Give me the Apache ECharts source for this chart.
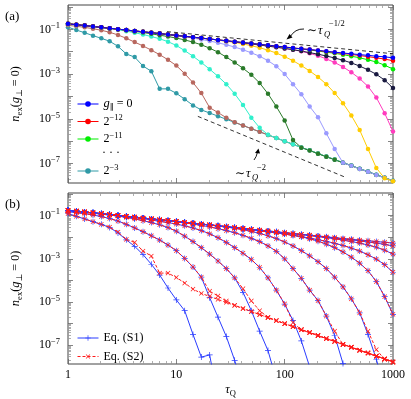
<!DOCTYPE html>
<html>
<head>
<meta charset="utf-8">
<script src="https://cdn.jsdelivr.net/npm/echarts@6/dist/echarts.min.js"></script>
<style>
  html, body { margin: 0; padding: 0; background: #fff; }
  #main { width: 411px; height: 399px; }
</style>
</head>
<body>
<div id="main"></div>
<script>
// tau_Q sample points, 13 per decade
const tauQ = [1, 1.194, 1.425, 1.701, 2.031, 2.424, 2.894, 3.455, 4.125, 4.924, 5.878, 7.017, 8.377,
  10, 11.94, 14.25, 17.01, 20.31, 24.24, 28.94, 34.55, 41.25, 49.24, 58.78, 70.17, 83.77,
  100, 119.4, 142.5, 170.1, 203.1, 242.4, 289.4, 345.5, 412.5, 492.4, 587.8, 701.7, 837.7, 1000];

// panel (a) / Eq. (S2): log10 n_ex, one value per tauQ
const nG0 = [-0.75,-0.79,-0.83,-0.87,-0.91,-0.95,-0.99,-1.03,-1.07,-1.11,-1.15,-1.19,-1.23,-1.27,-1.31,-1.35,-1.39,-1.43,-1.47,-1.51,
  -1.55,-1.59,-1.63,-1.67,-1.71,-1.75,-1.79,-1.83,-1.87,-1.90,-1.94,-1.98,-2.02,-2.06,-2.09,-2.13,-2.16,-2.20,-2.23,-2.27];
const nG12 = [-0.75,-0.79,-0.83,-0.87,-0.91,-0.95,-0.99,-1.03,-1.07,-1.11,-1.15,-1.19,-1.23,-1.27,-1.31,-1.35,-1.39,-1.43,-1.47,-1.51,
  -1.55,-1.59,-1.63,-1.67,-1.71,-1.75,-1.79,-1.83,-1.87,-1.90,-1.95,-1.99,-2.03,-2.08,-2.12,-2.17,-2.22,-2.27,-2.33,-2.40];
const nG11 = [-0.75,-0.79,-0.83,-0.87,-0.91,-0.95,-0.99,-1.03,-1.07,-1.11,-1.15,-1.19,-1.23,-1.27,-1.31,-1.35,-1.39,-1.43,-1.47,-1.51,
  -1.55,-1.59,-1.63,-1.67,-1.71,-1.75,-1.80,-1.84,-1.88,-1.92,-1.97,-2.02,-2.07,-2.13,-2.20,-2.27,-2.36,-2.46,-2.60,-2.78];
const nG10 = [-0.75,-0.79,-0.83,-0.87,-0.91,-0.95,-0.99,-1.03,-1.07,-1.11,-1.15,-1.19,-1.23,-1.27,-1.31,-1.35,-1.39,-1.43,-1.48,-1.52,
  -1.56,-1.61,-1.65,-1.70,-1.75,-1.80,-1.85,-1.91,-1.97,-2.04,-2.11,-2.19,-2.28,-2.38,-2.50,-2.64,-2.81,-3.01,-3.27,-3.62];
const nG9 = [-0.75,-0.79,-0.83,-0.87,-0.91,-0.95,-0.99,-1.03,-1.07,-1.11,-1.15,-1.19,-1.23,-1.27,-1.31,-1.35,-1.39,-1.43,-1.47,-1.51,
  -1.56,-1.61,-1.66,-1.70,-1.74,-1.79,-1.85,-1.91,-1.98,-2.07,-2.18,-2.32,-2.48,-2.68,-2.92,-3.20,-3.55,-4.05,-4.75,-5.57];
const nG8 = [-0.75,-0.79,-0.83,-0.87,-0.91,-0.95,-0.99,-1.03,-1.07,-1.11,-1.15,-1.19,-1.23,-1.27,-1.31,-1.35,-1.39,-1.43,-1.48,-1.53,
  -1.58,-1.65,-1.73,-1.82,-1.93,-2.06,-2.22,-2.40,-2.62,-2.86,-3.13,-3.45,-3.85,-4.30,-4.85,-5.50,-6.35,-7.20,-7.66,-7.79];
const nG7 = [-0.75,-0.79,-0.83,-0.87,-0.91,-0.95,-0.99,-1.03,-1.07,-1.11,-1.15,-1.19,-1.24,-1.28,-1.33,-1.39,-1.45,-1.52,-1.60,-1.69,
  -1.79,-1.91,-2.05,-2.20,-2.40,-2.65,-3.00,-3.45,-3.90,-4.45,-4.93,-5.65,-6.35,-6.97,-7.10,-7.24,-7.37,-7.51,-7.64,-7.78];
const nG6 = [-0.75,-0.79,-0.83,-0.87,-0.91,-0.95,-0.99,-1.04,-1.09,-1.14,-1.20,-1.26,-1.32,-1.39,-1.47,-1.57,-1.69,-1.84,-2.02,-2.24,
  -2.48,-2.74,-3.03,-3.40,-3.88,-4.45,-5.08,-5.95,-6.29,-6.42,-6.56,-6.70,-6.83,-6.97,-7.10,-7.24,-7.37,-7.51,-7.64,-7.78];
const nG5 = [-0.77,-0.81,-0.85,-0.89,-0.93,-0.97,-1.02,-1.08,-1.15,-1.23,-1.32,-1.42,-1.55,-1.72,-1.95,-2.20,-2.48,-2.78,-3.10,-3.45,
  -3.88,-4.38,-4.95,-5.40,-5.71,-5.86,-6.00,-6.14,-6.28,-6.41,-6.55,-6.69,-6.82,-6.96,-7.09,-7.23,-7.36,-7.50,-7.63,-7.77];
const nG4 = [-0.82,-0.86,-0.91,-0.97,-1.04,-1.13,-1.25,-1.40,-1.57,-1.74,-1.93,-2.13,-2.36,-2.62,-2.98,-3.38,-3.85,-4.50,-4.72,-4.95,
  -5.15,-5.30,-5.44,-5.58,-5.72,-5.86,-6.00,-6.14,-6.28,-6.41,-6.55,-6.69,-6.82,-6.96,-7.09,-7.23,-7.36,-7.50,-7.63,-7.77];
const nG3 = [-0.90,-1.03,-1.15,-1.28,-1.40,-1.53,-1.76,-2.10,-2.24,-2.64,-2.87,-3.66,-3.66,-3.86,-4.12,-4.40,-4.60,-4.74,-4.88,-5.02,
  -5.16,-5.30,-5.44,-5.58,-5.72,-5.86,-6.00,-6.14,-6.28,-6.41,-6.55,-6.69,-6.82,-6.96,-7.09,-7.23,-7.36,-7.50,-7.63,-7.77];

// panel (b), Eq. (S1): the curves that keep falling (log10 n_ex, from tauQ[0] on)
const s1G8 = [-0.75,-0.79,-0.83,-0.87,-0.91,-0.95,-0.99,-1.03,-1.07,-1.11,-1.15,-1.19,-1.23,-1.27,-1.31,-1.35,-1.39,-1.43,-1.48,-1.53,
  -1.58,-1.65,-1.73,-1.82,-1.93,-2.06,-2.22,-2.40,-2.62,-2.86,-3.13,-3.45,-3.85,-4.30,-4.85,-5.50,-6.50,-7.65,-9.00];
const s1G7 = [-0.75,-0.79,-0.83,-0.87,-0.91,-0.95,-0.99,-1.03,-1.07,-1.11,-1.15,-1.19,-1.24,-1.28,-1.33,-1.39,-1.45,-1.52,-1.60,-1.69,
  -1.79,-1.91,-2.05,-2.20,-2.40,-2.65,-3.00,-3.45,-3.90,-4.45,-4.93,-5.65,-6.55,-7.85,-9.20];
const s1G6 = [-0.75,-0.79,-0.83,-0.87,-0.91,-0.95,-0.99,-1.04,-1.09,-1.14,-1.20,-1.26,-1.32,-1.39,-1.47,-1.57,-1.69,-1.84,-2.02,-2.24,
  -2.48,-2.74,-3.03,-3.40,-3.88,-4.45,-5.10,-5.85,-6.80,-8.00];
const s1G5 = [-0.77,-0.81,-0.85,-0.89,-0.93,-0.97,-1.02,-1.08,-1.15,-1.23,-1.32,-1.42,-1.55,-1.72,-1.95,-2.20,-2.48,-2.78,-3.10,-3.45,
  -3.88,-4.55,-5.40,-6.35,-7.25,-8.60];
const s1G4 = [-0.82,-0.86,-0.91,-0.97,-1.04,-1.13,-1.25,-1.40,-1.57,-1.74,-1.93,-2.13,-2.36,-2.62,-2.98,-3.38,-3.85,-4.80,-5.70,-6.60,
  -7.70,-9.00];
const s1G3 = [-0.90,-1.03,-1.15,-1.28,-1.40,-1.55,-1.80,-2.12,-2.42,-2.80,-3.25,-3.75,-4.35,-4.90,-5.40,-6.50,-7.55,-7.45,-9.50];

// dashed guide lines in (a): [tau, log10 n]
const guideHalf = [[8.2, -1.10], [1000, -2.09]];
const guideTwo = [[15.8, -4.89], [366, -7.62]];

const serif = '"Liberation Serif", "DejaVu Serif", serif';
const toPts = logs => logs.map((v, i) => [tauQ[i], Math.pow(10, v)]);
const guidePts = g => g.map(p => [p[0], Math.pow(10, p[1])]);

const curves = [
  { name: 'g0',  color: '#0000ff', a: nG0,  s1: nG0 },
  { name: 'g12', color: '#ff0000', a: nG12, s1: nG12 },
  { name: 'g11', color: '#00ee00', a: nG11, s1: nG11 },
  { name: 'g10', color: '#1a1a40', a: nG10, s1: nG10 },
  { name: 'g9',  color: '#ff3cbe', a: nG9,  s1: nG9 },
  { name: 'g8',  color: '#ffcc00', a: nG8,  s1: s1G8 },
  { name: 'g7',  color: '#9a9aff', a: nG7,  s1: s1G7 },
  { name: 'g6',  color: '#2a7a2a', a: nG6,  s1: s1G6 },
  { name: 'g5',  color: '#30f0cc', a: nG5,  s1: s1G5 },
  { name: 'g4',  color: '#b8675e', a: nG4,  s1: s1G4 },
  { name: 'g3',  color: '#2f9aa6', a: nG3,  s1: s1G3 }
];

const rich = {
  b:   { fontFamily: serif, fontSize: 12, lineHeight: 16, color: '#000' },
  it:  { fontFamily: serif, fontSize: 12.5, fontStyle: 'italic', lineHeight: 16, color: '#000' },
  sup: { fontFamily: serif, fontSize: 8.5, verticalAlign: 'top', color: '#000' },
  sub: { fontFamily: serif, fontSize: 8.5, verticalAlign: 'bottom', color: '#000' }
};

const yMin = Math.pow(10, -7.87), yMaxA = Math.pow(10, 0.09), yMaxB = Math.pow(10, 0.05);

function multiples(lo, hi, mults, min, max) {
  const out = [];
  for (let e = lo; e <= hi; e++) mults.forEach(m => {
    const v = m * Math.pow(10, e);
    if (v >= min && v <= max) out.push(v);
  });
  return out;
}
const xMajor = [1, 10, 100, 1000];
const xMinor = multiples(0, 2, [2, 3, 4, 5, 6, 7, 8, 9], 1, 1000);

function xAxis(grid, pos, ticks, len, color, labels) {
  return {
    type: 'log', gridIndex: grid, position: pos, min: 1, max: 1000,
    axisLine: { show: false }, splitLine: { show: false },
    axisTick: { show: true, inside: true, length: len, customValues: ticks, lineStyle: { color: color, width: 0.8 } },
    axisLabel: labels ? {
      show: true, customValues: labels, margin: 5, fontFamily: serif, fontSize: 12, color: '#000',
      formatter: v => String(Math.round(v))
    } : { show: false },
    name: labels ? '{it|τ}{sub|Q}' : '', nameLocation: 'middle', nameGap: 18,
    nameTextStyle: { rich: rich }
  };
}
function yAxis(grid, pos, ticks, len, color, labels, max) {
  return {
    type: 'log', gridIndex: grid, position: pos, min: yMin, max: max,
    axisLine: { show: false }, splitLine: { show: false },
    axisTick: { show: true, inside: true, length: len, customValues: ticks, lineStyle: { color: color, width: 0.8 } },
    axisLabel: labels ? {
      show: true, customValues: labels, margin: 8, fontFamily: serif, fontSize: 12, color: '#000',
      formatter: v => '{b|10}{sup|−' + (-Math.round(Math.log10(v))) + '}', rich: rich
    } : { show: false },
    name: labels ? '{it|n}{sub|ex}{b|(}{it|g}{sub|⊥}{b| = 0)}' : '', nameLocation: 'middle', nameGap: 44, nameRotate: 90,
    nameTextStyle: { rich: rich }
  };
}

const xAxes = [], yAxes = [];
[yMaxA, yMaxB].forEach((max, g) => {
  const yMajor = multiples(-8, 0, [1], yMin, max);
  const yMinor = multiples(-8, 0, [2, 3, 4, 5, 6, 7, 8, 9], yMin, max);
  xAxes.push(xAxis(g, 'bottom', xMajor, 5, '#666', g === 1 ? xMajor : null));
  xAxes.push(xAxis(g, 'bottom', xMinor, 3, '#999', null));
  xAxes.push(xAxis(g, 'top', xMajor, 5, '#666', null));
  xAxes.push(xAxis(g, 'top', xMinor, 3, '#999', null));
  yAxes.push(yAxis(g, 'left', yMajor, 5, '#666', [1e-1, 1e-3, 1e-5, 1e-7], max));
  yAxes.push(yAxis(g, 'left', yMinor, 3, '#999', null, max));
  yAxes.push(yAxis(g, 'right', yMajor, 5, '#666', null, max));
  yAxes.push(yAxis(g, 'right', yMinor, 3, '#999', null, max));
});

const plusPath = 'path://M-0.12,-1H0.12V-0.12H1V0.12H0.12V1H-0.12V0.12H-1V-0.12H-0.12Z';

const series = [];
// guide lines
[guideHalf, guideTwo].forEach(g => series.push({
  type: 'line', xAxisIndex: 0, yAxisIndex: 0, data: guidePts(g), symbol: 'none', silent: true,
  lineStyle: { color: '#000', width: 0.8, type: [4, 3] }
}));
// panel (a)
curves.slice().reverse().forEach(c => series.push({
  name: c.name, type: 'line', xAxisIndex: 0, yAxisIndex: 0, data: toPts(c.a),
  symbol: 'circle', symbolSize: 4.5, color: c.color,
  lineStyle: { width: 1, color: c.color }, itemStyle: { color: c.color, borderWidth: 0 }
}));
// panel (b): Eq. (S1) solid blue, Eq. (S2) dashed red
curves.forEach(c => series.push({
  name: 'Eq. (S1)', type: 'line', xAxisIndex: 4, yAxisIndex: 4, data: toPts(c.s1),
  symbol: plusPath, symbolSize: 6, color: '#2a3cff',
  lineStyle: { width: 1, color: '#2a3cff' }, itemStyle: { color: '#2a3cff', borderWidth: 0 }
}));
curves.forEach(c => series.push({
  name: 'Eq. (S2)', type: 'line', xAxisIndex: 4, yAxisIndex: 4, data: toPts(c.a),
  symbol: plusPath, symbolRotate: 45, symbolSize: 6, color: '#ff1a1a',
  lineStyle: { width: 1, color: '#ff1a1a', type: [3, 2] }, itemStyle: { color: '#ff1a1a', borderWidth: 0 }
}));

const legendText = {
  g0: '{it|g}{sub|∥}{b| = 0}', g12: '{b|2}{sup|−12}', g11: '{b|2}{sup|−11}', g3: '{b|2}{sup|−3}',
  'Eq. (S1)': '{b|Eq. (S1)}', 'Eq. (S2)': '{b|Eq. (S2)}'
};
function legend(names, top, gap) {
  return {
    data: names, orient: 'vertical', left: 77, top: top, itemWidth: 21, itemHeight: 7, itemGap: gap,
    selectedMode: false, padding: 0,
    lineStyle: { width: 1 }, itemStyle: { borderWidth: 0 },
    formatter: n => legendText[n],
    textStyle: { fontFamily: serif, fontSize: 12, lineHeight: 16, color: '#000', rich: rich }
  };
}

const chart = echarts.init(document.getElementById('main'));
chart.setOption({
  animation: false,
  backgroundColor: '#fff',
  grid: [
    { left: 68, top: 5, width: 325, height: 178, show: true, borderColor: '#444', borderWidth: 1 },
    { left: 68, top: 193, width: 325, height: 177, show: true, borderColor: '#444', borderWidth: 1 }
  ],
  xAxis: xAxes,
  yAxis: yAxes,
  legend: [
    legend(['g0', 'g12', 'g11'], 96, 1.5),
    legend(['g3'], 163, 1.5),
    legend(['Eq. (S1)', 'Eq. (S2)'], 330, 2.5)
  ],
  graphic: [
    { type: 'text', left: 5, top: 10, style: { text: '(a)', font: '13px ' + serif, fill: '#000' } },
    { type: 'text', left: 5, top: 198, style: { text: '(b)', font: '13px ' + serif, fill: '#000' } },
    { type: 'text', x: 111, y: 153, style: { text: '· · ·', font: '12px ' + serif, fill: '#000', align: 'center', verticalAlign: 'middle' } },
    // ~ tau_Q^{-1/2}
    { type: 'text', x: 307, y: 31, style: { text: '∼', font: '12px ' + serif, fill: '#000', verticalAlign: 'middle' } },
    { type: 'text', x: 318, y: 31, style: { text: 'τ', font: 'italic 12.5px ' + serif, fill: '#000', verticalAlign: 'middle' } },
    { type: 'text', x: 324, y: 35, style: { text: 'Q', font: 'italic 8.5px ' + serif, fill: '#000', verticalAlign: 'middle' } },
    { type: 'text', x: 329, y: 24, style: { text: '−1/2', font: '8.5px ' + serif, fill: '#000', verticalAlign: 'middle' } },
    { type: 'bezierCurve', shape: { x1: 304, y1: 29, x2: 290, y2: 37, cpx1: 295, cpy1: 28.5 }, style: { stroke: '#000', lineWidth: 0.9, fill: null } },
    { type: 'polygon', shape: { points: [[286.5, 39.5], [289.5, 34], [292.5, 37.5]] }, style: { fill: '#000' } },
    // ~ tau_Q^{-2}
    { type: 'text', x: 235, y: 174, style: { text: '∼', font: '12px ' + serif, fill: '#000', verticalAlign: 'middle' } },
    { type: 'text', x: 246, y: 174, style: { text: 'τ', font: 'italic 12.5px ' + serif, fill: '#000', verticalAlign: 'middle' } },
    { type: 'text', x: 252, y: 178, style: { text: 'Q', font: 'italic 8.5px ' + serif, fill: '#000', verticalAlign: 'middle' } },
    { type: 'text', x: 257, y: 168, style: { text: '−2', font: '8.5px ' + serif, fill: '#000', verticalAlign: 'middle' } },
    { type: 'bezierCurve', shape: { x1: 254, y1: 160, x2: 257.5, y2: 152, cpx1: 256.5, cpy1: 157 }, style: { stroke: '#000', lineWidth: 0.9, fill: null } },
    { type: 'polygon', shape: { points: [[258.5, 148.5], [255, 153], [260, 153.5]] }, style: { fill: '#000' } }
  ],
  series: series
});
</script>
</body>
</html>
